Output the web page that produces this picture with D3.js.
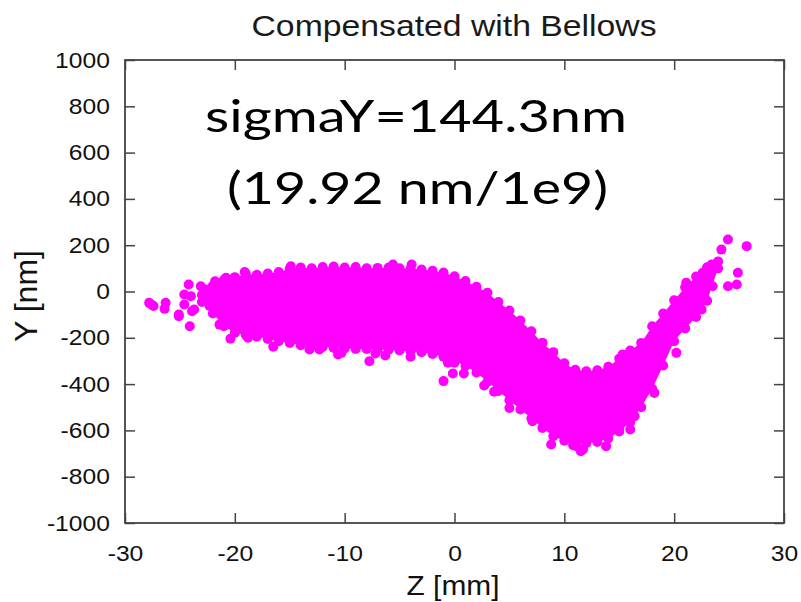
<!DOCTYPE html>
<html>
<head>
<meta charset="utf-8">
<script src="https://cdn.jsdelivr.net/npm/d3@7"></script>
<style>
  body { margin: 0; background: #fff; }
  svg { display: block; }
</style>
</head>
<body>
<script>
var Z_TICKS = [-30, -20, -10, 0, 10, 20, 30];
var Y_TICKS = [-1000, -800, -600, -400, -200, 0, 200, 400, 600, 800, 1000];

// dense core of the cloud: upper / lower edge per Z [mm], Y in nm
var coreZ   = [ -23, -22, -21, -20, -19, -18, -17, -16, -15, -14, -13, -12, -11, -10,  -9,  -8,  -7,  -6,  -5,  -4,  -3,  -2,  -1,   0,   1,   2,   3,   4,   5,   6,   7,   8,   9,  10,  11,  12,  13,  14,  15,  16,  17,  18,  19,  20,  21,  22,  23,  24];
var coreTop = [ -15,  25,  50,  62,  76,  72,  78,  84,  98, 104, 100, 106, 108, 104, 106, 100, 102, 104, 100,  98,  95,  90,  82,  66,  45,  20,  -5, -45, -82,-125,-172,-222,-262,-310,-338,-345,-340,-325,-290,-255,-222,-150, -95, -38,  18,  65, 105, 130];
var coreBot = [ -45, -95,-150,-178,-188,-195,-205,-215,-222,-232,-236,-240,-244,-246,-248,-248,-250,-252,-255,-258,-262,-270,-282,-300,-322,-350,-390,-430,-470,-510,-548,-590,-625,-645,-655,-655,-650,-635,-605,-565,-500,-420,-320,-215,-160,-110, -40, 100];

// scattered points outside the core
var looseZ = [-27.8, -27.4, -26.3, -26.4, -25.1, -24.1, -24.6, -24.2, -23.1, -23.9, -21.8, -20.8, -19.1, -20.4, -18.8, -16.5, -14.9, -21.4, -13.2, -10.6,  -7.75, -7.2, -6.3, -4.0, -5.6, -3.9, -0.6,  0.0, -0.15, -1.0,  0.85,  2.7,  3.6,  5.0,  8.8, 11.1, 11.7, 13.8, 15.0, 16.4, 18.2, 17.8, 20.2, 22.5, 23.5, 25.7, 24.9, 25.8, 26.6, 24.9, 24.3, 23.4, 22.6, 21.1, -23.7, -22.3, -22.6, -22.0, -24.6, -24.0, -10.3, -12.3, -27.6, -25.1, -14.0, 7.1, 11.5, 10.8, 16.0, 8.0, 15.3];
var looseY = [  -49,   -63,   -49,   -75,  -107,  -150,   -56,    30,    23,   -85,    44,    59,    84,  -204,  -200,  -239,   109,  -143,  -250,  -272,  -301, -268, -276, -282,  117,  117, -308, -308,  -354, -387,  -354, -406, -433, -503, -661, -668, -682, -668, -596, -539, -438, -380, -265,  -78,   23,   30,   23,   81,  196,  225,  181,  117,   81,   38,   -78,   -63,     9,    -6,   -13,   -20,  -265,  -250,   -56,   -99,  -215, -560, -690, -664, -596, -222, -272];

var W = 801, H = 602;
var M = { left: 125, right: 784, top: 60, bottom: 523 };
var DOT = '#ff00ff';
var SANS = '"Liberation Sans", Arial, sans-serif';
var STRETCH = 1.12;

var svg = d3.select('body').append('svg')
    .attr('width', W)
    .attr('height', H);

var x = d3.scaleLinear().domain([-30, 30]).range([M.left, M.right]);
var y = d3.scaleLinear().domain([-1000, 1000]).range([M.bottom, M.top]);

function plain(d) { return String(d); }

function styleAxis(g) {
  g.select('.domain').remove();
  g.selectAll('line').attr('stroke', '#444').attr('stroke-width', 1.5);
  g.selectAll('text')
      .attr('font-family', SANS)
      .attr('font-size', 22)
      .attr('fill', '#111')
      .attr('transform', 'scale(' + STRETCH + ',1)');
}

svg.append('g')
    .attr('transform', 'translate(0,' + M.bottom + ')')
    .call(d3.axisBottom(x).tickValues(Z_TICKS).tickFormat(plain).tickSizeInner(-10).tickSizeOuter(0).tickPadding(22))
    .call(styleAxis);
svg.append('g')
    .attr('transform', 'translate(0,' + M.top + ')')
    .call(d3.axisTop(x).tickValues(Z_TICKS).tickSizeInner(-10).tickSizeOuter(0).tickFormat(''))
    .call(styleAxis);
svg.append('g')
    .attr('transform', 'translate(' + M.left + ',0)')
    .call(d3.axisLeft(y).tickValues(Y_TICKS).tickFormat(plain).tickSizeInner(-10).tickSizeOuter(0).tickPadding(13.5))
    .call(styleAxis);
svg.append('g')
    .attr('transform', 'translate(' + M.right + ',0)')
    .call(d3.axisRight(y).tickValues(Y_TICKS).tickSizeInner(-10).tickSizeOuter(0).tickFormat(''))
    .call(styleAxis);

// the point cloud
var core = coreZ.map(function(z, i) { return { z: z, top: coreTop[i], bot: coreBot[i] }; });

svg.append('path')
    .datum(core)
    .attr('fill', DOT)
    .attr('d', d3.area()
        .x(function(d) { return x(d.z); })
        .y0(function(d) { return y(d.bot); })
        .y1(function(d) { return y(d.top); }));

var edgePts = [];
core.forEach(function(d) {
  edgePts.push({ z: d.z, v: d.top });
  edgePts.push({ z: d.z, v: d.bot });
});
looseZ.forEach(function(z, i) { edgePts.push({ z: z, v: looseY[i] }); });

svg.append('g').selectAll('circle')
    .data(edgePts)
    .enter()
    .append('circle')
    .attr('cx', function(d) { return x(d.z); })
    .attr('cy', function(d) { return y(d.v); })
    .attr('r', 5)
    .attr('fill', DOT);

// frame
svg.append('rect')
    .attr('x', M.left)
    .attr('y', M.top)
    .attr('width', M.right - M.left)
    .attr('height', M.bottom - M.top)
    .attr('fill', 'none')
    .attr('stroke', '#444')
    .attr('stroke-width', 1.8);

// titles
svg.append('text')
    .attr('transform', 'translate(454,36) scale(' + STRETCH + ',1)')
    .attr('text-anchor', 'middle')
    .attr('font-family', SANS)
    .attr('font-size', 29)
    .attr('fill', '#1a1a1a')
    .attr('textLength', 405 / STRETCH)
    .attr('lengthAdjust', 'spacingAndGlyphs')
    .text('Compensated with Bellows');

svg.append('text')
    .attr('transform', 'translate(453,595) scale(' + STRETCH + ',1)')
    .attr('text-anchor', 'middle')
    .attr('font-family', SANS)
    .attr('font-size', 28)
    .attr('fill', '#111')
    .attr('textLength', 93 / STRETCH)
    .attr('lengthAdjust', 'spacingAndGlyphs')
    .text('Z [mm]');

svg.append('text')
    .attr('transform', 'translate(37,296) rotate(-90) scale(1,' + STRETCH + ')')
    .attr('text-anchor', 'middle')
    .attr('font-family', SANS)
    .attr('font-size', 28)
    .attr('fill', '#111')
    .attr('textLength', 92)
    .attr('lengthAdjust', 'spacingAndGlyphs')
    .text('Y [nm]');

// annotation
var NOTE = 'Lato, "Open Sans", sans-serif';
svg.append('text')
    .attr('x', 205)
    .attr('y', 132)
    .attr('font-family', NOTE)
    .attr('font-size', 45)
    .attr('fill', '#000')
    .attr('textLength', 422)
    .attr('lengthAdjust', 'spacingAndGlyphs')
    .text('sigmaY=144.3nm');

svg.append('text')
    .attr('x', 227)
    .attr('y', 204)
    .attr('font-family', NOTE)
    .attr('font-size', 45)
    .attr('fill', '#000')
    .attr('textLength', 381)
    .attr('lengthAdjust', 'spacingAndGlyphs')
    .text('(19.92 nm/1e9)');
</script>
</body>
</html>
